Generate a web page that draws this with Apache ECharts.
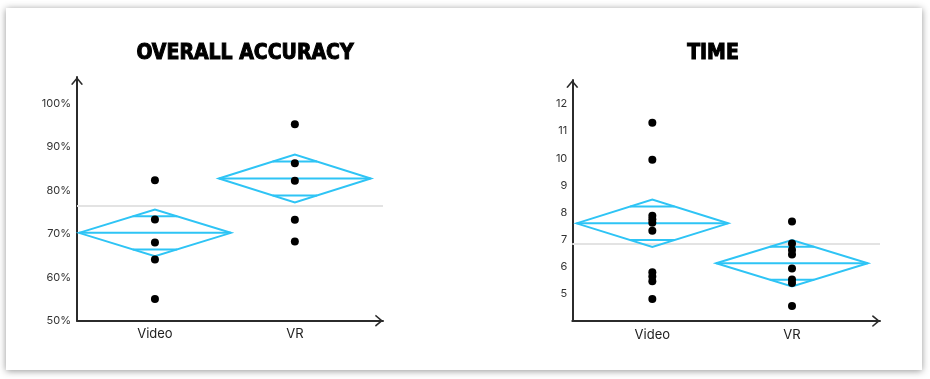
<!DOCTYPE html>
<html>
<head>
<meta charset="utf-8">
<script src="https://cdn.jsdelivr.net/npm/echarts@6/dist/echarts.min.js"></script>
<style>
  html, body { margin: 0; padding: 0; background: #ffffff; }
  #card { position: absolute; left: 6px; top: 8px; width: 916px; height: 362px; background: #fff;
          box-shadow: 0 1px 7px rgba(0,0,0,0.42); }
  #chart { position: absolute; left: 0; top: 0; width: 930px; height: 379px; }
</style>
</head>
<body>
<div id="card"></div>
<div id="chart"></div>
<script>
// ---- data ----
const categories = ['Video', 'VR'];
const titles = ['OVERALL ACCURACY', 'TIME'];

const accVideo = [82.3, 73.3, 68.0, 64.1, 55.0];
const accVR = [95.2, 86.2, 82.2, 73.2, 68.2];
const accMeans = [70.2, 82.7];
const accCIHalf = [5.37, 5.52];
const accGrandMean = 76.45;
const accTicks = [50, 60, 70, 80, 90, 100];

const timeVideo = [11.31, 9.94, 7.88, 7.75, 7.62, 7.33, 5.80, 5.64, 5.47, 4.81];
const timeVR = [7.67, 6.86, 6.62, 6.45, 5.94, 5.53, 5.40, 4.56];
const timeMeans = [7.60, 6.13];
const timeCIHalf = [0.873, 0.855];
const timeGrandMean = 6.84;
const timeTicks = [5, 6, 7, 8, 9, 10, 11, 12];

// ---- styling ----
const BLUE = '#2ec4f5';
const AXIS = '#2b2b2b';
const HALF_W = 0.543;
const CHEVRON = 'path://M0,7.2 L6,0 L12,7.2 L10.6,8 L6,2.5 L1.4,8 Z';

function diamondRender(params, api) {
  const x = api.value(0), m = api.value(1), h = api.value(2);
  const k = Math.SQRT1_2;
  const L = api.coord([x - HALF_W, m]), R = api.coord([x + HALF_W, m]);
  const T = api.coord([x, m + h]), B = api.coord([x, m - h]);
  const fw = HALF_W * (1 - k);
  const u1 = api.coord([x - fw, m + h * k]), u2 = api.coord([x + fw, m + h * k]);
  const l1 = api.coord([x - fw, m - h * k]), l2 = api.coord([x + fw, m - h * k]);
  const st = { stroke: BLUE, lineWidth: 2, fill: null };
  return {
    type: 'group',
    children: [
      { type: 'polygon', shape: { points: [L, T, R, B] }, style: st },
      { type: 'line', shape: { x1: L[0], y1: L[1], x2: R[0], y2: R[1] }, style: st },
      { type: 'line', shape: { x1: u1[0], y1: u1[1], x2: u2[0], y2: u2[1] }, style: st },
      { type: 'line', shape: { x1: l1[0], y1: l1[1], x2: l2[0], y2: l2[1] }, style: st }
    ]
  };
}

function xAxisCfg(idx, min, max) {
  return {
    type: 'value', gridIndex: idx, min: min, max: max,
    splitLine: { show: false },
    axisTick: { show: false },
    axisLine: { show: true, lineStyle: { color: AXIS, width: 2 },
      symbol: ['none', CHEVRON], symbolSize: [13, 8], symbolOffset: [0, -4] },
    axisLabel: {
      customValues: [1, 2],
      formatter: v => categories[Math.round(v) - 1] || '',
      color: '#222', fontFamily: 'Inter', fontSize: 13, margin: 7
    }
  };
}
function yAxisCfg(idx, min, max, ticks, fmt, margin) {
  return {
    type: 'value', gridIndex: idx, min: min, max: max,
    splitLine: { show: false },
    axisTick: { show: false },
    axisLine: { show: true, lineStyle: { color: AXIS, width: 2 },
      symbol: ['none', CHEVRON], symbolSize: [13, 8], symbolOffset: [0, -4] },
    axisLabel: {
      customValues: ticks,
      formatter: fmt,
      color: '#333', fontFamily: 'Inter', fontSize: 11, margin: margin
    }
  };
}

function seriesFor(idx, videoVals, vrVals, means, ci, grand) {
  const pts = videoVals.map(v => [1, v]).concat(vrVals.map(v => [2, v]));
  return [
    {
      type: 'custom', xAxisIndex: idx, yAxisIndex: idx, z: 3,
      renderItem: diamondRender,
      data: means.map((m, i) => [i + 1, m, ci[i]]),
      silent: true,
      markLine: {
        silent: true, symbol: 'none', z: 1,
        label: { show: false },
        lineStyle: { color: '#e3e3e3', width: 2, type: 'solid' },
        data: [{ yAxis: grand }]
      }
    },
    {
      type: 'scatter', xAxisIndex: idx, yAxisIndex: idx, z: 4,
      symbolSize: 8, itemStyle: { color: '#000', opacity: 1 },
      data: pts
    }
  ];
}

const titleStyle = { fontFamily: 'DejaVu Sans Condensed', fontWeight: 'bold', fontSize: 21, color: '#000',
  textBorderColor: '#000', textBorderWidth: 1 };

const chart = echarts.init(document.getElementById('chart'), null, { renderer: 'canvas' });
chart.setOption({
  animation: false,
  backgroundColor: 'transparent',
  title: [
    { text: titles[0], left: 245, top: 43, textAlign: 'center', padding: 0, textStyle: titleStyle },
    { text: titles[1], left: 713, top: 43, textAlign: 'center', padding: 0, textStyle: titleStyle }
  ],
  grid: [
    { left: 77, right: 547, top: 77, bottom: 58.3 },
    { left: 572.3, right: 50, top: 80, bottom: 57.9 }
  ],
  xAxis: [xAxisCfg(0, 0.443, 2.63), xAxisCfg(1, 0.427, 2.63)],
  yAxis: [
    yAxisCfg(0, 50, 106.05, accTicks, v => v + '%', 6),
    yAxisCfg(1, 4, 12.88, timeTicks, v => String(v), 5)
  ],
  series: seriesFor(0, accVideo, accVR, accMeans, accCIHalf, accGrandMean)
    .concat(seriesFor(1, timeVideo, timeVR, timeMeans, timeCIHalf, timeGrandMean))
});
</script>
</body>
</html>
